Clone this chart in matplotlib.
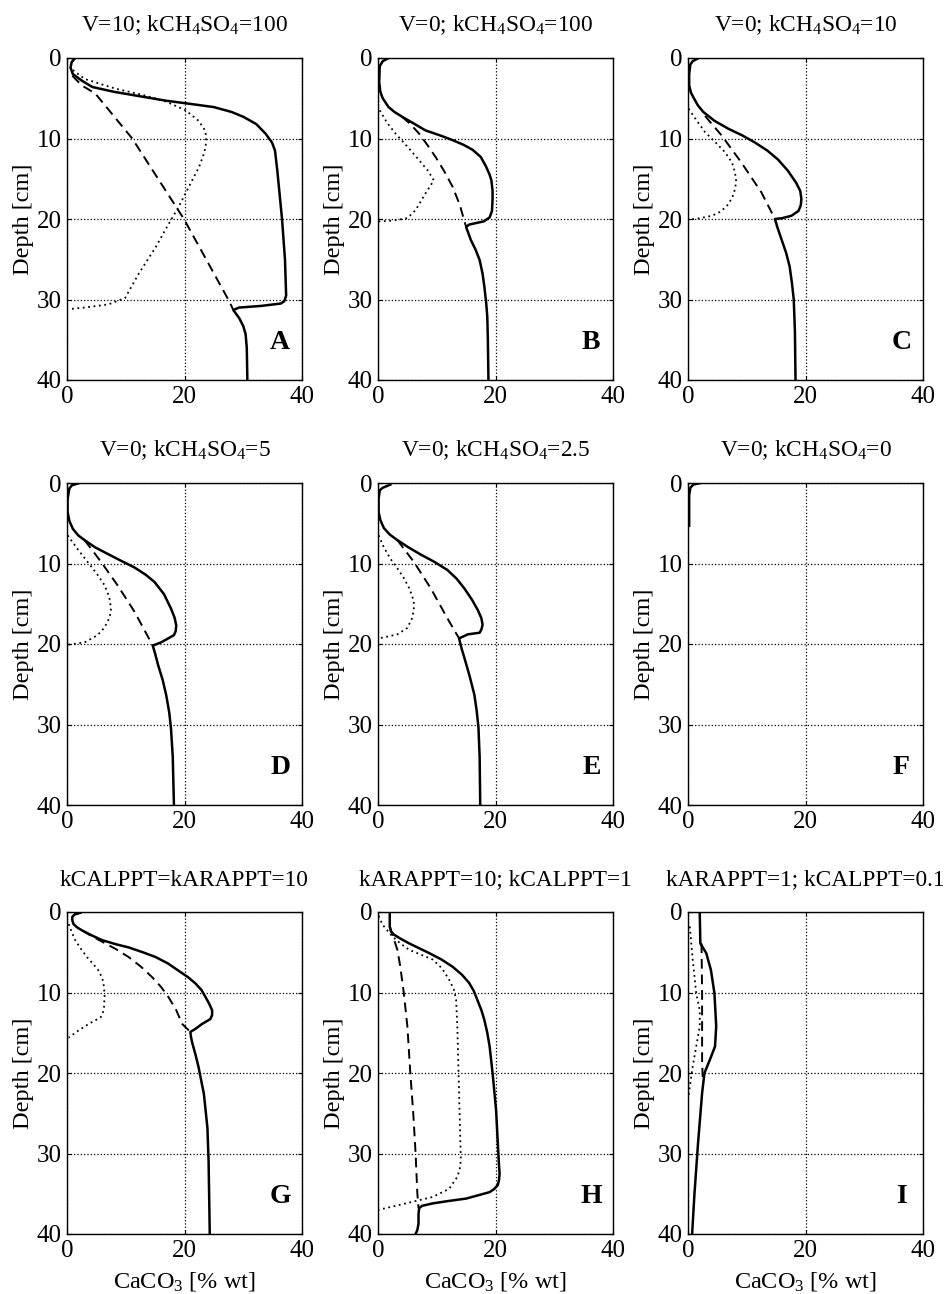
import matplotlib
matplotlib.use("Agg")
import matplotlib.pyplot as plt

plt.rcParams['font.family'] = ['Liberation Serif', 'DejaVu Serif']
plt.rcParams['mathtext.fontset'] = 'custom'
plt.rcParams['mathtext.rm'] = 'Liberation Serif'
plt.rcParams['mathtext.it'] = 'Liberation Serif:italic'

# panel titles and letters
titles = [r'V=10; kCH$_4$SO$_4$=100', r'V=0; kCH$_4$SO$_4$=100', r'V=0; kCH$_4$SO$_4$=10',
          r'V=0; kCH$_4$SO$_4$=5', r'V=0; kCH$_4$SO$_4$=2.5', r'V=0; kCH$_4$SO$_4$=0',
          'kCALPPT=kARAPPT=10', 'kARAPPT=10; kCALPPT=1', 'kARAPPT=1; kCALPPT=0.1']
letters = ['A', 'B', 'C', 'D', 'E', 'F', 'G', 'H', 'I']

# total CaCO3 (solid), dashed and dotted components; x = % wt, z = depth cm
A_tot_x = [1.4, 0.8, 0.6, 1.0, 2.5, 4.3, 8.0, 12.0, 16.8, 21.0, 25.0, 28.0, 30.0, 32.2, 33.8, 34.9, 35.4, 35.8, 36.2, 36.6, 37.1, 37.3, 37.0, 36.4, 33.0, 29.3, 28.3, 29.3, 30.0, 30.4, 30.6, 30.7]
A_tot_z = [0.0, 0.5, 1.2, 2.0, 2.8, 3.6, 4.2, 4.7, 5.3, 5.7, 6.1, 6.7, 7.3, 8.2, 9.4, 10.5, 11.5, 14.0, 17.0, 20.0, 25.0, 29.5, 30.2, 30.5, 30.8, 31.0, 31.3, 32.3, 33.3, 34.3, 36.0, 40.0]
A_dash_x = [0.9, 2.5, 4.8, 11.1, 19.9, 27.6, 28.3]
A_dash_z = [2.2, 3.4, 4.4, 10.0, 20.0, 30.2, 31.3]
A_dot_x = [1.0, 3.0, 8.2, 13.0, 16.8, 20.2, 22.4, 23.5, 23.7, 23.6, 23.3, 22.5, 21.3, 19.0, 17.0, 15.1, 12.2, 9.9, 7.1, 3.0, 0.3]
A_dot_z = [1.5, 2.6, 3.8, 4.6, 5.4, 6.5, 7.8, 9.0, 9.8, 11.0, 11.9, 13.5, 15.2, 18.5, 21.0, 23.5, 26.8, 29.8, 30.6, 31.0, 31.2]

B_tot_x = [1.8, 0.8, 0.3, 0.2, 0.4, 0.8, 1.8, 2.8, 4.1, 6.0, 8.1, 10.5, 12.7, 14.6, 16.1, 17.5, 18.4, 19.0, 19.3, 19.5, 19.5, 19.4, 19.0, 18.0, 16.7, 15.5, 15.0, 15.4, 15.8, 16.6, 17.3, 17.8, 18.1, 18.4, 18.6, 18.7, 18.8]
B_tot_z = [0.0, 0.4, 1.0, 3.0, 4.2, 5.0, 6.1, 6.7, 7.3, 8.1, 9.0, 9.6, 10.2, 10.8, 11.4, 12.3, 13.5, 14.5, 15.2, 16.5, 17.6, 19.0, 19.8, 20.3, 20.5, 20.7, 21.0, 21.8, 22.6, 23.8, 25.1, 26.8, 28.4, 30.3, 32.1, 35.0, 40.0]
B_dash_x = [4.1, 5.5, 7.0, 8.4, 9.8, 11.3, 12.7, 13.9, 15.0]
B_dash_z = [7.3, 8.2, 9.4, 10.8, 12.3, 14.1, 16.0, 18.2, 21.0]
B_dot_x = [0.3, 1.5, 3.0, 5.0, 7.0, 8.5, 9.5, 8.1, 6.4, 5.0, 2.5, 0.1]
B_dot_z = [6.5, 8.0, 9.4, 11.0, 12.7, 14.0, 15.2, 16.8, 18.9, 19.9, 20.2, 20.3]

C_tot_x = [1.8, 0.8, 0.4, 0.2, 0.2, 0.5, 1.0, 1.7, 2.6, 4.5, 6.9, 9.2, 11.4, 13.5, 15.3, 17.0, 18.4, 19.1, 19.3, 19.2, 18.8, 17.6, 16.0, 14.8, 15.2, 15.9, 16.7, 17.3, 17.7, 18.0, 18.2, 18.3]
C_tot_z = [0.0, 0.4, 0.8, 2.0, 3.4, 4.3, 5.0, 5.9, 6.7, 7.8, 8.8, 9.6, 10.5, 11.5, 12.6, 14.0, 15.5, 16.5, 17.5, 18.3, 19.0, 19.6, 19.9, 20.0, 21.0, 22.5, 24.2, 25.9, 28.0, 30.0, 34.0, 40.0]
C_dash_x = [2.9, 5.7, 9.1, 12.5, 14.8]
C_dash_z = [7.2, 9.6, 13.0, 16.7, 20.0]
C_dot_x = [0.1, 1.5, 2.9, 4.7, 6.3, 7.5, 8.0, 8.2, 8.0, 7.5, 6.6, 5.5, 4.1, 2.0, 0.1]
C_dot_z = [6.3, 7.8, 9.2, 10.5, 11.7, 13.0, 14.2, 15.3, 16.3, 17.4, 18.4, 19.1, 19.6, 19.9, 20.1]

D_tot_x = [2.1, 0.8, 0.4, 0.1, 0.1, 0.4, 1.0, 1.9, 3.0, 4.8, 6.9, 9.3, 11.5, 13.4, 14.9, 16.5, 17.7, 18.3, 18.6, 18.5, 18.2, 17.0, 16.0, 14.6, 15.0, 15.5, 16.3, 16.9, 17.4, 17.7, 18.0, 18.2]
D_tot_z = [0.0, 0.3, 0.7, 2.0, 3.6, 4.7, 5.7, 6.5, 7.1, 8.0, 8.8, 9.7, 10.5, 11.4, 12.3, 13.8, 15.6, 16.7, 17.7, 18.4, 18.9, 19.4, 19.8, 20.2, 21.2, 22.6, 24.5, 26.4, 28.5, 30.5, 34.0, 40.0]
D_dash_x = [3.0, 5.8, 8.6, 11.5, 14.6]
D_dash_z = [7.1, 9.8, 12.7, 16.0, 20.2]
D_dot_x = [0.1, 1.8, 3.5, 5.1, 6.4, 7.2, 7.5, 7.3, 6.9, 6.2, 5.2, 3.0, 0.1]
D_dot_z = [6.5, 8.2, 9.8, 11.3, 12.7, 14.2, 15.6, 16.5, 17.3, 18.1, 18.9, 19.8, 20.1]

E_tot_x = [2.1, 0.8, 0.3, 0.1, 0.1, 0.4, 1.0, 2.0, 3.3, 5.2, 7.3, 9.6, 11.8, 13.4, 14.7, 16.0, 17.0, 17.6, 17.8, 17.6, 17.3, 15.3, 13.8, 14.2, 14.7, 15.6, 16.4, 16.8, 17.1, 17.3, 17.4]
E_tot_z = [0.2, 0.6, 0.9, 2.0, 3.6, 4.6, 5.6, 6.4, 7.1, 8.0, 8.9, 9.8, 10.8, 11.9, 13.1, 14.5, 15.8, 16.8, 17.6, 18.2, 18.6, 18.8, 19.3, 20.5, 21.7, 24.0, 26.3, 28.3, 30.4, 34.0, 40.0]
E_dash_x = [3.3, 6.1, 9.0, 11.8, 13.8]
E_dash_z = [7.1, 9.8, 13.1, 16.8, 19.3]
E_dot_x = [0.1, 1.0, 2.1, 3.3, 4.4, 5.4, 6.1, 6.1, 5.8, 5.0, 3.3, 1.5, 0.1]
E_dot_z = [6.5, 8.0, 9.4, 10.6, 11.8, 13.2, 14.7, 15.8, 16.8, 18.0, 18.8, 19.1, 19.3]

F_tot_x = [2.1, 0.9, 0.4, 0.2, 0.2]
F_tot_z = [0.0, 0.2, 0.6, 1.5, 5.3]
F_dash_x = []
F_dash_z = []
F_dot_x = []
F_dot_z = []

G_tot_x = [2.3, 1.3, 0.9, 0.9, 1.1, 1.7, 2.6, 4.2, 6.0, 8.3, 10.5, 12.9, 15.1, 17.2, 19.0, 20.6, 21.9, 22.9, 23.6, 24.2, 24.7, 24.7, 24.4, 23.7, 23.0, 21.9, 21.0, 21.1, 21.3, 21.9, 22.4, 23.3, 23.9, 24.1, 24.3]
G_tot_z = [0.1, 0.3, 0.6, 1.0, 1.5, 1.9, 2.3, 2.9, 3.5, 4.0, 4.4, 5.0, 5.6, 6.4, 7.3, 8.1, 8.9, 9.7, 10.6, 11.4, 12.2, 12.8, 13.3, 13.6, 13.9, 14.5, 14.9, 15.5, 16.2, 17.8, 19.3, 22.6, 26.8, 30.9, 40.0]
G_dash_x = [2.6, 4.2, 6.0, 8.3, 10.5, 12.6, 14.5, 16.0, 17.3, 18.6, 19.6, 21.0]
G_dash_z = [2.3, 3.0, 3.7, 4.6, 5.6, 6.8, 8.1, 9.3, 10.6, 12.2, 13.9, 14.9]
G_dot_x = [0.3, 0.8, 1.4, 2.3, 3.4, 4.5, 5.4, 6.0, 6.3, 6.4, 6.3, 6.1, 5.7, 3.7, 2.0, 0.3]
G_dot_z = [1.5, 2.5, 3.5, 4.5, 5.6, 6.5, 7.3, 8.2, 9.3, 10.5, 11.8, 12.6, 13.1, 13.9, 14.7, 15.6]

H_tot_x = [2.0, 2.0, 2.2, 2.7, 3.8, 5.3, 7.0, 8.7, 10.8, 12.7, 14.3, 15.5, 16.3, 16.9, 17.6, 18.1, 18.6, 19.0, 19.5, 20.1, 20.4, 20.6, 20.7, 20.6, 20.4, 19.8, 19.0, 17.0, 15.0, 12.0, 9.3, 7.5, 7.0, 6.9, 6.9, 6.7, 6.4]
H_tot_z = [0.1, 1.8, 2.4, 2.8, 3.3, 3.9, 4.5, 5.1, 5.9, 6.8, 7.8, 8.8, 9.8, 10.9, 12.2, 13.4, 15.0, 16.7, 20.0, 24.6, 28.8, 31.5, 32.5, 33.3, 33.9, 34.4, 34.8, 35.2, 35.6, 35.9, 36.2, 36.5, 36.8, 37.5, 38.7, 39.5, 40.0]
H_dash_x = [2.0, 3.3, 3.8, 4.4, 5.0, 5.5, 6.0, 6.4, 6.7, 6.9]
H_dash_z = [1.8, 4.7, 6.8, 10.1, 14.2, 20.0, 25.0, 30.0, 35.0, 36.8]
H_dot_x = [0.1, 0.8, 2.4, 3.8, 5.3, 7.3, 9.3, 10.9, 12.1, 12.9, 13.3, 13.5, 13.8, 14.1, 13.9, 13.5, 12.1, 9.3, 4.7, 0.1]
H_dot_z = [0.5, 1.6, 3.0, 3.9, 4.7, 5.3, 5.9, 7.0, 8.4, 9.6, 10.9, 14.2, 22.5, 30.8, 32.0, 32.9, 34.4, 35.4, 36.2, 37.0]

I_tot_x = [2.0, 2.1, 3.1, 3.9, 4.5, 4.8, 4.6, 3.7, 2.8, 2.4, 1.7, 1.1, 0.7]
I_tot_z = [0.1, 3.9, 5.1, 7.2, 10.1, 14.2, 16.7, 18.4, 20.0, 22.5, 28.8, 35.0, 40.0]
I_dash_x = [2.3, 2.4, 2.4, 2.4, 2.5]
I_dash_z = [3.9, 10.1, 14.2, 18.4, 20.5]
I_dot_x = [0.3, 0.8, 1.4, 2.0, 2.0, 1.4, 0.8, 0.3, 0.0]
I_dot_z = [1.8, 5.9, 10.1, 12.2, 14.2, 16.7, 19.2, 21.7, 23.4]

panels = [
    (A_tot_x, A_tot_z, A_dash_x, A_dash_z, A_dot_x, A_dot_z),
    (B_tot_x, B_tot_z, B_dash_x, B_dash_z, B_dot_x, B_dot_z),
    (C_tot_x, C_tot_z, C_dash_x, C_dash_z, C_dot_x, C_dot_z),
    (D_tot_x, D_tot_z, D_dash_x, D_dash_z, D_dot_x, D_dot_z),
    (E_tot_x, E_tot_z, E_dash_x, E_dash_z, E_dot_x, E_dot_z),
    (F_tot_x, F_tot_z, F_dash_x, F_dash_z, F_dot_x, F_dot_z),
    (G_tot_x, G_tot_z, G_dash_x, G_dash_z, G_dot_x, G_dot_z),
    (H_tot_x, H_tot_z, H_dash_x, H_dash_z, H_dot_x, H_dot_z),
    (I_tot_x, I_tot_z, I_dash_x, I_dash_z, I_dot_x, I_dot_z),
]

W, H = 948, 1294
fig = plt.figure(figsize=(W / 100, H / 100), dpi=100)
col_left = [67, 378, 688]
row_top = [58, 483, 912]
aw, ah = 235, 322

for i, (tx, tz, dx, dz, px, pz) in enumerate(panels):
    r, c = divmod(i, 3)
    ax = fig.add_axes([col_left[c] / W, 1 - (row_top[r] + ah) / H, aw / W, ah / H])
    ax.plot(px, pz, color='k', linestyle=(0, (1, 2.0)), linewidth=1.3)
    ax.plot(dx, dz, color='k', linestyle=(0, (5, 3)), linewidth=1.4)
    ax.plot(tx, tz, color='k', linestyle='-', linewidth=1.8)
    ax.set_xlim(0, 40)
    ax.set_ylim(40, 0)
    ax.set_xticks([0, 20, 40])
    ax.set_yticks([0, 10, 20, 30, 40])
    ax.grid(True, linestyle=':', color='k', linewidth=0.9)
    ax.tick_params(direction='in', length=3, labelsize=18, top=True, right=True, pad=4)
    for s in ax.spines.values():
        s.set_linewidth(1.0)
    ax.set_title(titles[i], fontsize=16.8, pad=19)
    ax.set_ylabel('Depth [cm]', fontsize=17.5, labelpad=2)
    if r == 2:
        ax.set_xlabel(r'CaCO$_3$ [% wt]', fontsize=17.5, labelpad=6)
    ax.text(36.3, 35.3, letters[i], ha='center', va='center', fontsize=20, fontweight='bold')

fig.savefig('out.png', dpi=100)
